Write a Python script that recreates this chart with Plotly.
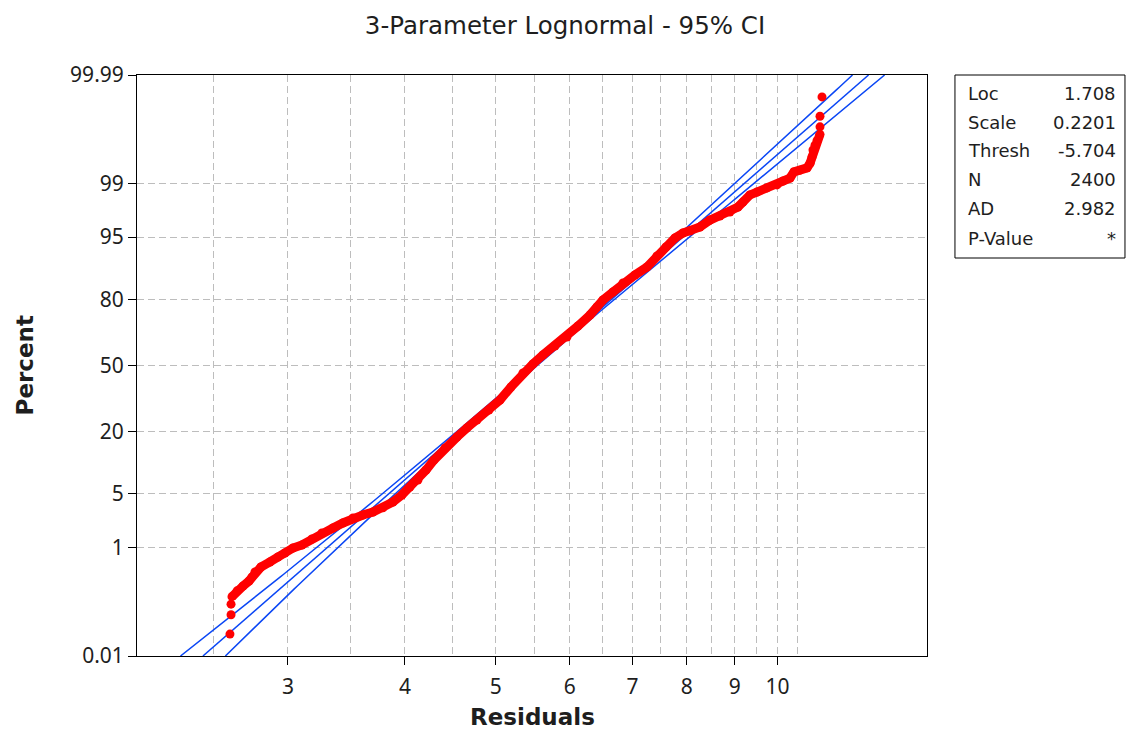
import math
import plotly.graph_objects as go
from statistics import NormalDist

# ---------------- data ----------------
residuals = [
    2.601, 2.608, 2.608, 2.614, 2.647, 2.686, 2.726, 2.746, 2.766, 2.807,
    2.870, 2.927, 2.978, 3.037, 3.105, 3.182, 3.261, 3.351, 3.434, 3.520,
    3.607, 3.697, 3.789, 3.884, 3.970, 4.049, 4.130, 4.213, 4.296, 4.414,
    4.546, 4.659, 4.775, 4.918, 5.053, 5.192, 5.347, 5.480, 5.617, 5.785,
    5.958, 6.122, 6.305, 6.414, 6.510, 6.672, 6.838, 7.043, 7.254, 7.434,
    7.601, 7.771, 7.925, 8.063, 8.264, 8.469, 8.680, 8.896, 9.073, 9.185,
    9.344, 9.507, 9.745, 9.988, 10.136, 10.312, 10.414, 10.569, 10.753, 10.833,
    10.885, 10.912, 10.966, 11.020, 11.102, 11.102, 11.102, 11.157,
]
percent = [
    0.0292, 0.0708, 0.1125, 0.1541, 0.1958, 0.2375, 0.290, 0.339, 0.410, 0.495,
    0.595, 0.712, 0.820, 0.974, 1.079, 1.318, 1.600, 1.876, 2.190, 2.546,
    2.783, 3.038, 3.420, 4.029, 4.869, 5.994, 7.125, 9.050, 11.32, 14.55,
    18.00, 21.22, 24.27, 28.45, 32.94, 39.16, 46.18, 50.77, 55.35, 59.86,
    64.24, 69.34, 74.10, 77.30, 79.91, 82.66, 85.45, 87.67, 89.63, 91.95,
    93.54, 94.87, 95.51, 95.74, 96.19, 96.87, 97.22, 97.53, 97.88, 98.18,
    98.55, 98.68, 98.85, 98.96, 99.09, 99.18, 99.34, 99.38, 99.43, 99.52,
    99.62, 99.71, 99.76, 99.80, 99.8459, 99.8875, 99.9292, 99.9708,
]

x_ticks = [3, 4, 5, 6, 7, 8, 9, 10]
x_minor = [2.5, 3.5, 4.5, 5.5, 6.5, 7.5, 8.5, 9.5, 10.5]
y_ticks = [0.01, 1, 5, 20, 50, 80, 95, 99, 99.99]
y_tick_labels = ["0.01", "1", "5", "20", "50", "80", "95", "99", "99.99"]

stat_labels = ["Loc", "Scale", "Thresh", "N", "AD", "P-Value"]
stat_values = ["1.708", "0.2201", "-5.704", "2400", "2.982", "*"]

# fitted parameters (log-scale location / scale)
LOC = 1.708
SCALE = 0.2201
# approximate 95% CI half-width model (ln units)
Z0, W0, BU, KL = 0.3, 0.0035, 0.0115, 0.0032

# ---------------- helpers ----------------
nd = NormalDist()
def pz(p):
    return nd.inv_cdf(p / 100.0)

ZMAX = pz(99.99)

def ci_half(z):
    if z >= Z0:
        return math.sqrt(W0 ** 2 + (BU * (z - Z0)) ** 2)
    return W0 + KL * (Z0 - z) ** 2

nz = 200
zgrid = [-ZMAX + 2 * ZMAX * i / (nz - 1) for i in range(nz)]
fit_x = [math.exp(LOC + SCALE * z) for z in zgrid]
lo_x = [math.exp(LOC + SCALE * z - ci_half(z)) for z in zgrid]
hi_x = [math.exp(LOC + SCALE * z + ci_half(z)) for z in zgrid]

yz = [pz(p) for p in percent]

BLUE = "#0A46F5"
RED = "#FF0000"
GRID = "#BDBDBD"
TXT = "#1E1E1E"
FONT = "DejaVu Sans"
TICKFONT = "Noto Sans"
DASH = "7px,4px"

fig = go.Figure()
for xs in (lo_x, fit_x, hi_x):
    fig.add_trace(go.Scatter(x=xs, y=zgrid, mode="lines",
                             line=dict(color=BLUE, width=1.5),
                             hoverinfo="skip", showlegend=False))

# dense body of sorted points (connected so the band is continuous)
fig.add_trace(go.Scatter(x=residuals[3:75], y=yz[3:75], mode="lines",
                         line=dict(color=RED, width=9),
                         hoverinfo="skip", showlegend=False))
fig.add_trace(go.Scatter(x=residuals, y=yz, mode="markers",
                         marker=dict(color=RED, size=9, line=dict(width=0)),
                         showlegend=False))

axis_common = dict(
    showline=True, linecolor="black", linewidth=1, mirror=True,
    ticks="outside", ticklen=8, tickcolor="black", tickwidth=1,
    showgrid=True, gridcolor=GRID, gridwidth=1.2, griddash=DASH,
    zeroline=False, tickfont=dict(family=TICKFONT, size=21, color=TXT),
)

fig.update_xaxes(
    type="log",
    range=[0.31585, 1.15969],
    tickmode="array", tickvals=x_ticks, ticktext=[str(v) for v in x_ticks],
    ticklabelstandoff=4,
    minor=dict(tickmode="array", tickvals=x_minor, showgrid=True,
               gridcolor=GRID, gridwidth=1.2, griddash=DASH, ticks=""),
    **axis_common,
)
fig.update_yaxes(
    range=[-ZMAX, ZMAX],
    tickmode="array", tickvals=[pz(p) for p in y_ticks], ticktext=y_tick_labels,
    **axis_common,
)

shapes = [dict(type="rect", xref="paper", yref="paper",
               x0=1.0354, x1=1.2506, y0=0.685, y1=1.0,
               line=dict(color="black", width=1), fillcolor="white")]

annotations = []
row_y = [0.9690, 0.9191, 0.8692, 0.8193, 0.7694, 0.7194]
for lab, val, yy in zip(stat_labels, stat_values, row_y):
    annotations.append(dict(xref="paper", yref="paper", x=1.0494, y=yy,
                            text=lab, showarrow=False, xanchor="left", yanchor="middle",
                            font=dict(family=FONT, size=18, color=TXT)))
    annotations.append(dict(xref="paper", yref="paper", x=1.2418, y=yy,
                            text=val, showarrow=False, xanchor="right", yanchor="middle",
                            font=dict(family=FONT, size=18, color=TXT)))

annotations.append(dict(xref="paper", yref="paper", x=0.5, y=-0.105,
                        text="<b>Residuals</b>", showarrow=False,
                        xanchor="center", yanchor="middle",
                        font=dict(family=FONT, size=23, color=TXT)))
annotations.append(dict(xref="paper", yref="paper", x=-0.1418, y=0.5,
                        text="<b>Percent</b>", showarrow=False, textangle=-90,
                        xanchor="center", yanchor="middle",
                        font=dict(family=FONT, size=23, color=TXT)))

fig.update_layout(
    width=1130, height=733,
    margin=dict(l=137, r=203, t=75, b=77),
    paper_bgcolor="white", plot_bgcolor="white",
    title=dict(text="3-Parameter Lognormal - 95% CI", x=0.5, xref="container",
               xanchor="center", y=1 - 25 / 733, yref="container", yanchor="middle",
               font=dict(family=FONT, size=24.5, color=TXT)),
    shapes=shapes, annotations=annotations, showlegend=False,
)

fig.write_html("out.html")
